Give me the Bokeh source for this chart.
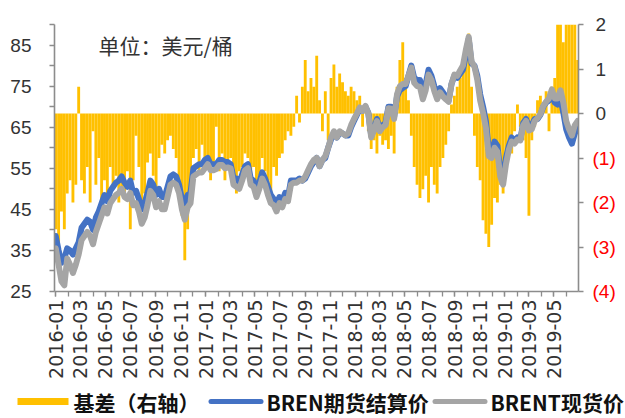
import numpy as np
import pandas as pd
from bokeh.plotting import figure
from bokeh.models import (Range1d, LinearAxis, FixedTicker, DatetimeTickFormatter,
                          Label, ColumnDataSource, CustomJSTickFormatter)
from bokeh.core.properties import value
from bokeh.layouts import column
from bokeh.embed import file_html
from bokeh.resources import INLINE

# ---------------- data (weekly, Fridays) ----------------
first_week = "2016-01-01"

bren_futures = [
    # 2016
    38.5, 35.0, 32.0, 33.0, 35.5, 35.0, 34.0, 35.5, 37.0, 40.5,
    41.5, 42.5, 42.0, 40.0, 43.0, 44.5, 46.5, 48.5, 47.0, 49.5,
    50.5, 51.5, 52.0, 53.0, 51.5, 50.5, 52.0, 49.0, 49.5, 47.5,
    45.0, 46.5, 49.0, 52.0, 51.0, 48.5, 50.0, 48.0, 48.0, 50.5,
    53.0, 53.5, 53.0, 51.0, 47.5, 46.5, 48.5, 49.0, 55.0, 55.5,
    56.0, 56.0, 57.0,
    # 2017
    57.5, 56.0, 56.0, 56.0, 57.0, 57.0, 56.5, 56.5, 56.0, 52.5,
    52.5, 51.5, 53.5, 55.5, 56.0, 52.5, 52.0, 49.5, 51.5, 54.0,
    52.5, 50.5, 48.5, 47.5, 46.0, 48.0, 47.0, 49.0, 48.0, 52.0,
    52.0, 52.0, 52.5, 52.0, 52.5, 54.0, 55.5, 56.5, 57.5, 55.5,
    57.0, 57.5, 60.0, 62.0, 63.5, 62.5, 63.5, 63.5, 63.0, 63.0,
    65.0, 66.5,
    # 2018
    68.0, 69.5, 69.0, 70.0, 68.5, 63.0, 64.5, 67.0, 64.5, 65.5,
    66.0, 70.0, 70.0, 67.5, 72.5, 74.0, 74.5, 75.0, 77.5, 80.0,
    77.0, 76.5, 76.5, 73.5, 75.5, 79.0, 77.5, 75.0, 73.0, 74.5,
    73.5, 72.5, 71.5, 75.5, 77.5, 77.0, 78.0, 79.0, 82.5, 86.5,
    80.5, 80.0, 77.5, 73.0, 70.0, 66.5, 59.5, 59.0, 61.5, 60.5,
    54.5, 52.5,
    # 2019
    57.5, 60.5, 62.5, 61.5, 62.5, 62.0, 66.0, 67.0, 65.0, 65.5,
    67.0, 67.0, 68.0, 70.0, 71.0, 71.5, 73.5, 71.0, 70.5, 72.0,
    68.5, 64.5, 62.5, 61.0, 63.5, 64.5,
]

brent_spot = [
    # 2016
    35.5, 31.5, 27.5, 26.5, 33.0, 31.5, 29.5, 31.5, 34.0, 37.5,
    38.5, 39.5, 38.5, 36.5, 39.5, 41.5, 43.5, 45.5, 44.0, 46.5,
    47.5, 48.5, 49.0, 50.0, 48.0, 47.5, 49.0, 46.0, 46.5, 44.5,
    41.5, 43.0, 46.0, 49.5, 48.5, 45.5, 47.0, 45.0, 45.0, 48.0,
    51.0, 51.5, 51.0, 49.0, 45.0, 42.5, 45.5, 46.5, 53.0, 53.5,
    54.0, 54.0, 55.0,
    # 2017
    56.0, 54.5, 54.5, 54.8, 55.8, 55.8, 55.0, 55.2, 55.0, 51.0,
    50.5, 50.0, 52.0, 54.5, 55.0, 51.0, 50.5, 48.0, 50.0, 52.5,
    51.0, 48.5, 46.5, 46.0, 44.5, 46.5, 45.5, 47.5, 47.0, 51.0,
    51.5, 51.5, 52.0, 52.0, 53.0, 54.5, 56.0, 57.0, 57.5, 55.5,
    57.0, 58.0, 60.0, 62.5, 64.0, 62.5, 64.0, 63.5, 63.0, 63.5,
    65.5, 67.0,
    # 2018
    68.3, 69.8, 69.0, 70.2, 68.3, 62.5, 64.2, 66.5, 64.0, 65.0,
    65.5, 69.6, 69.5, 67.0, 73.0, 75.0, 75.5, 75.5, 77.5, 79.5,
    75.8, 75.0, 74.8, 71.8, 74.0, 77.8, 76.5, 73.8, 71.8, 73.5,
    72.5, 71.8, 71.2, 75.5, 77.8, 77.5, 78.8, 80.0, 83.8, 87.0,
    81.0, 79.8, 76.5, 71.5, 68.5, 64.8, 58.0, 57.5, 60.0, 59.0,
    53.0, 51.0,
    # 2019
    56.0, 59.5, 61.5, 61.0, 62.0, 61.8, 65.5, 66.5, 64.2, 64.5,
    66.5, 67.2, 68.2, 70.2, 71.2, 72.0, 74.2, 72.0, 72.0, 74.0,
    71.0, 66.5, 64.5, 63.0, 65.5, 66.5,
]

basis = [
    # 2016
    -2.6, -2.9, -2.2, -2.6, -1.8, -1.5, -2.0, -1.6, 0.6, -1.5,
    -1.8, -1.2, -2.0, -0.4, -1.6, -1.0, -2.4, -1.5, -1.8, -1.2,
    -1.6, -1.4, -2.0, -1.7, -1.9, -1.3, -2.6, -1.5, -0.5, -1.2,
    -2.2, -1.8, -1.1, -0.9, -1.4, -1.8, -1.0, -0.7, -0.9, -0.6,
    -0.5, -0.8, -1.0, -1.6, -2.3, -3.3, -2.6, -2.0, -1.0, -0.8,
    -1.3, -0.7, -1.0,
    # 2017
    -1.0, -1.5, -1.2, -0.3, -1.3, -0.9, -1.5, -1.1, -1.0, -1.4,
    -1.8, -1.3, -1.2, -0.9, -1.0, -1.6, -1.2, -1.5, -1.4, -1.0,
    -1.3, -1.5, -1.8, -1.2, -1.4, -1.0, -0.9, -0.6, -0.4, -0.5,
    -0.3, 0.4, -0.2, 0.6, 1.2, 0.5, 0.8, 0.6, 1.3, 0.3,
    -0.4, 0.5, -0.6, 0.8, 1.1, 0.6, 0.9, 0.7, 0.5, 0.4,
    0.6, 0.5,
    # 2018
    0.3, 0.4, -0.3, 0.2, -0.4, -0.8, -0.6, -0.9, -0.5, -0.7,
    -0.6, -0.8, -0.5, -0.9, 0.6, 1.2, 1.6, 0.8, 0.3, -0.5,
    -1.2, -1.6, -1.9, -1.7, -1.4, -2.0, -1.2, -1.6, -1.8, -1.2,
    -1.0, -0.7, -0.4, 0.2, 0.4, 0.6, 0.8, 1.2, 1.5, 1.8,
    0.6, -0.5, -1.2, -1.5, -2.4, -2.7, -3.0, -2.5, -1.9, -2.0,
    -1.6, -1.8,
    # 2019
    -1.2, -0.8, -0.9, -0.4, 0.2, -0.3, -0.6, -1.0, -2.3, -0.6,
    -0.3, 0.3, 0.4, 0.2, 0.5, -0.4, 0.6, 0.8, 2.5, 2.5,
    1.6, 2.5, 2.5, 2.5, 2.5, 1.2,
]

left_tick_labels = [25, 35, 45, 55, 65, 75, 85]
left_minor = [30, 40, 50, 60, 70, 80, 90]
right_pos_ticks = [0, 1, 2]
right_neg_ticks = [-4, -3, -2, -1]
series_names = ["基差（右轴）", "BREN期货结算价", "BRENT现货价"]
series_colors = ["#FFC000", "#4472C4", "#A5A5A5"]
unit_text = "单位：美元/桶"

# ---------------- build ----------------
dates = pd.date_range(first_week, periods=len(basis), freq="7D")
src = ColumnDataSource(dict(x=dates, fut=bren_futures, spot=brent_spot, basis=basis))

def ms(ts):
    return pd.DatetimeIndex(ts).values.astype("datetime64[ms]").astype("int64").tolist()

major_months = ms(pd.date_range("2016-01-01", "2019-05-01", freq="2MS"))
minor_months = ms(pd.date_range("2016-01-01", "2019-06-01", freq="MS"))

AX = "#8c8c8c"
TXT = "#333333"

def strip(height):
    f = figure(width=625, height=height, x_range=Range1d(0, 625), y_range=Range1d(0, height),
               x_axis_location=None, y_axis_location=None, toolbar_location=None,
               output_backend="svg", min_border_top=0, min_border_bottom=0,
               min_border_left=0, min_border_right=0, frame_align=False,
               background_fill_color="white", border_fill_color="white")
    f.outline_line_color = None
    f.grid.visible = False
    return f

# thin black rule across the top of the page (page rows 4-7)
rule = strip(8)
rule.hbar(y=[2.5], height=3, left=0, right=625, color="#000000")

# ---------------- main chart ----------------
p = figure(width=625, height=376, x_axis_type="datetime",
           output_backend="svg", toolbar_location=None, frame_align=False,
           x_range=Range1d(pd.Timestamp("2015-12-29"), pd.Timestamp("2019-06-30")),
           y_range=Range1d(25, 90),
           min_border_left=54, min_border_right=47, min_border_top=16, min_border_bottom=93)
p.extra_y_ranges = {"basis": Range1d(-4, 2)}
p.grid.visible = False
p.outline_line_color = None
p.background_fill_color = "white"
p.border_fill_color = "white"

xa = p.xaxis[0]
xa.ticker = FixedTicker(ticks=major_months, minor_ticks=minor_months)
fmt = "%Y-%m"
xa.formatter = DatetimeTickFormatter(years=fmt, months=fmt, days=fmt, hours=fmt,
                                     minutes=fmt, seconds=fmt, milliseconds=fmt,
                                     microseconds=fmt, minsec=fmt, hourmin=fmt)
xa.major_label_orientation = np.pi / 2
xa.major_label_text_font = "DejaVu Sans"
xa.major_label_text_font_size = "19px"
xa.major_label_text_color = TXT
xa.major_label_standoff = 3

ya = p.yaxis[0]
ya.ticker = FixedTicker(ticks=left_tick_labels, minor_ticks=left_minor)
ya.major_label_text_font = "Liberation Sans"
ya.major_label_text_font_size = "19px"
ya.major_label_text_color = TXT
ya.major_label_standoff = 18

# right axis A: line, all ticks, black labels 0..2
ra = LinearAxis(y_range_name="basis",
                ticker=FixedTicker(ticks=right_pos_ticks, minor_ticks=right_neg_ticks))
ra.major_label_text_font = "Liberation Sans"
ra.major_label_text_font_size = "19px"
ra.major_label_text_color = TXT
ra.major_label_standoff = 12
p.add_layout(ra, "right")

for ax in [xa, ya, ra]:
    ax.axis_line_color = AX
    ax.axis_line_width = 1.6
    ax.major_tick_line_color = AX
    ax.minor_tick_line_color = AX
    ax.major_tick_line_width = 1.3
    ax.minor_tick_line_width = 1.3
    ax.major_tick_in = 0
    ax.minor_tick_in = 0
    ax.major_tick_out = 5
    ax.minor_tick_out = 5

# right axis B: red bracketed labels for the negative values, pulled back under A's labels
rb = LinearAxis(y_range_name="basis", ticker=FixedTicker(ticks=right_neg_ticks),
                formatter=CustomJSTickFormatter(code="return '(' + Math.abs(tick) + ')'"))
rb.axis_line_color = None
rb.major_tick_line_color = None
rb.minor_tick_line_color = None
rb.major_tick_in = 0
rb.major_tick_out = 0
rb.minor_tick_in = 0
rb.minor_tick_out = 0
rb.major_label_text_font = "Liberation Sans"
rb.major_label_text_font_size = "19px"
rb.major_label_text_color = "#FF0000"
rb.major_label_standoff = -17
p.add_layout(rb, "right")

week_ms = 7 * 24 * 3600 * 1000
p.vbar(x="x", top="basis", bottom=0, width=week_ms, source=src, y_range_name="basis",
       fill_color=series_colors[0], line_color=None)
p.line("x", "fut", source=src, line_color=series_colors[1], line_width=6,
       line_join="round", line_cap="round")
p.line("x", "spot", source=src, line_color=series_colors[2], line_width=6,
       line_join="round", line_cap="round")

p.add_layout(Label(x=44, y=247, x_units="screen", y_units="screen", text=unit_text,
                   text_font="Noto Sans CJK SC", text_font_size="21px",
                   text_color=TXT, text_baseline="middle", text_align="left"))

# ---------------- legend strip (page rows 384-418) ----------------
lf = strip(34)
key_x0 = [17, 210.5, 434.5]
key_x1 = [68, 260.5, 484.5]
key_w = [7, 5, 5]
key_cap = ["butt", "round", "round"]
text_x = [73, 266, 490]
for i in range(3):
    lf.segment(x0=[key_x0[i]], y0=[17], x1=[key_x1[i]], y1=[17],
               line_color=series_colors[i], line_width=key_w[i], line_cap=key_cap[i])
lf.text(x=text_x, y=[17, 17, 17], text=series_names,
        text_font=value("Noto Sans CJK SC"), text_font_style="bold",
        text_font_size="21px", text_color="#111111",
        text_baseline="middle", text_align="left")

layout = column(rule, p, lf, spacing=0)
open("out.html", "w").write(file_html(layout, INLINE))
